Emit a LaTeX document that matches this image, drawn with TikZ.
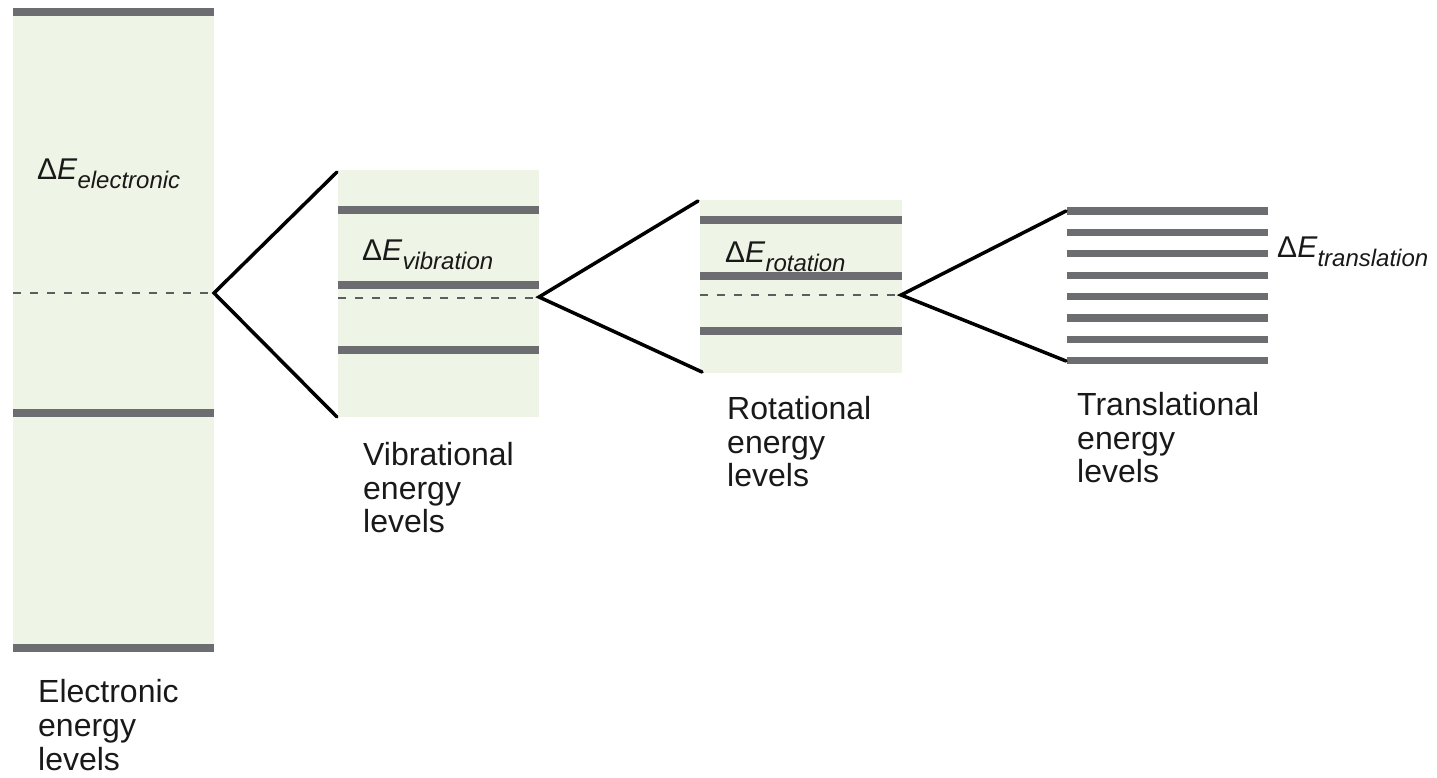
\documentclass[tikz,border=0pt]{standalone}
\usepackage{fontspec}
\setmainfont{Liberation Sans}
\definecolor{boxfill}{RGB}{238,245,230}
\definecolor{bargray}{RGB}{108,109,112}
\newcommand{\dEl}[1]{{\fontsize{30}{30}\selectfont Δ\textit{E}}\raisebox{-9pt}{\fontsize{24}{24}\selectfont\textit{#1}}}
\begin{document}
\begin{tikzpicture}[x=1pt,y=-1pt,
  levelfill/.style={fill=boxfill},
  bar/.style={draw=bargray,line width=7.3pt,line cap=butt},
  midline/.style={draw=bargray!85!black,line width=1.3pt,dash pattern=on 8pt off 9pt},
  split/.style={draw=black,line width=3.5pt,line cap=round,line join=miter},
  delta/.style={anchor=base west,inner sep=0pt,text=black!90},
  caption/.style={anchor=north west,inner sep=0pt,align=left,text=black!90,
    font=\fontsize{32}{33.8}\selectfont}]
\useasboundingbox (0,0) rectangle (1437,777);
% electronic
\fill[levelfill] (13,8) rectangle (214,652);
\draw[bar] (13,12) -- (214,12);
\draw[bar] (13,413) -- (214,413);
\draw[bar] (13,648) -- (214,648);
\draw[midline] (13,293) -- (214,293);
% vibrational
\fill[levelfill] (338,170) rectangle (539,417);
\draw[bar] (338,210) -- (539,210);
\draw[bar] (338,285) -- (539,285);
\draw[bar] (338,350) -- (539,350);
\draw[midline] (338,298) -- (539,298);
% rotational
\fill[levelfill] (700,200) rectangle (902,373);
\draw[bar] (700,220) -- (902,220);
\draw[bar] (700,276) -- (902,276);
\draw[bar] (700,331) -- (902,331);
\draw[midline] (700,295) -- (901,295);
% translational
\foreach \y in {211,232.4,253.8,275.2,296.6,318,339.4,360.8}
  \draw[bar] (1067,\y) -- (1268,\y);
% splitting connectors
\coordinate (v1) at (214,293);
\coordinate (v1a) at (337,172);
\coordinate (v1b) at (337,417);
\coordinate (v2) at (539,297);
\coordinate (v2a) at (698,201);
\coordinate (v2b) at (702,372);
\coordinate (v3) at (901,295);
\coordinate (v3a) at (1066,211);
\coordinate (v3b) at (1066,361);
\draw[split] (v1a) -- (v1) -- (v1b);
\draw[split] (v2a) -- (v2) -- (v2b);
\draw[split] (v3a) -- (v3) -- (v3b);
% delta labels
\node[delta] (de1) at (37,179) {\dEl{electronic}};
\node[delta] (de2) at (362,260) {\dEl{vibration}};
\node[delta] (de3) at (725,262) {\dEl{rotation}};
\node[delta] (de4) at (1277,257) {\dEl{translation}};
% captions
\node[caption] (c1) at (38,679) {Electronic\\energy\\levels};
\node[caption] (c2) at (363,442) {Vibrational\\energy\\levels};
\node[caption] (c3) at (727,396) {Rotational\\energy\\levels};
\node[caption] (c4) at (1077,392) {Translational\\energy\\levels};
\end{tikzpicture}
\end{document}
